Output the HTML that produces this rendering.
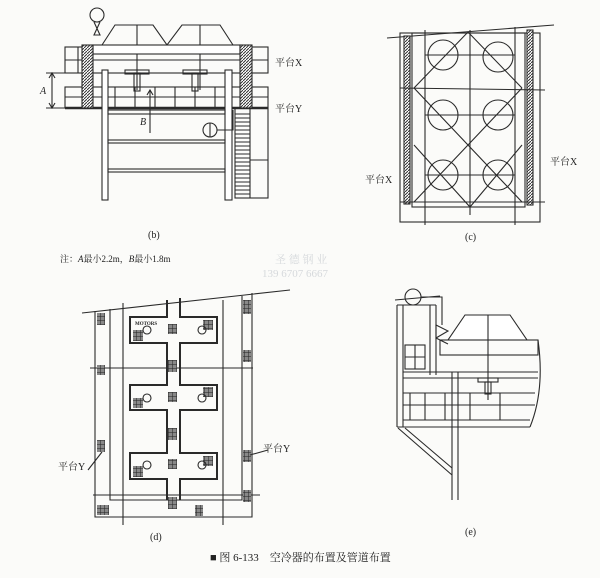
<!DOCTYPE html>
<html><head><meta charset="utf-8"><style>
html,body{margin:0;padding:0;background:#fbfbf9;}
svg{display:block}
text{font-family:"Liberation Serif","Noto Serif CJK SC",serif;fill:#222}
text.wm{fill:#d6d9dc}
</style></head><body>
<svg width="600" height="578" viewBox="0 0 600 578" xmlns="http://www.w3.org/2000/svg">
<defs>
<pattern id="h" width="3" height="3" patternUnits="userSpaceOnUse"><rect width="3" height="3" fill="#fff"/><path d="M0 3L3 0" stroke="#333" stroke-width="1"/></pattern>
<pattern id="g" width="4" height="4" patternUnits="userSpaceOnUse"><rect width="4" height="4" fill="#888"/><path d="M0 0H4M0 0V4" stroke="#222" stroke-width="1"/></pattern>
</defs>
<g stroke="#2a2a2a" fill="none" stroke-width="1.1">
<!-- (b) -->
<path d="M102 45 L115 25 L153 25 L167 45 L182 25 L220 25 L233 45" />
<line x1="137" y1="25" x2="137" y2="90"/><line x1="200" y1="25" x2="200" y2="90"/>
<rect x="65" y="47" width="203" height="26"/>
<line x1="65" y1="60" x2="268" y2="60"/><line x1="78" y1="47" x2="78" y2="73"/>
<rect x="93" y="45" width="147" height="9" fill="#fff"/>
<rect x="65" y="87" width="203" height="21"/>
<line x1="65" y1="97" x2="268" y2="97"/>
<path d="M85 87V108M115 87V108M135 87V108M155 87V108M175 87V108M195 87V108M215 87V108"/>
<line x1="65" y1="108" x2="268" y2="108" stroke-width="2.5"/>
<rect x="82" y="45" width="11" height="63" fill="url(#h)"/>
<rect x="240" y="45" width="12" height="63" fill="url(#h)"/>
<rect x="102" y="70" width="6" height="130" fill="#fff"/>
<rect x="225" y="70" width="7" height="130" fill="#fff"/>
<rect x="108" y="110" width="117" height="4"/>
<rect x="108" y="140" width="117" height="3"/>
<rect x="108" y="169" width="117" height="3"/>
<rect x="235" y="108" width="33" height="90"/>
<path d="M235 114h15M235 118h15M235 122h15M235 126h15M235 130h15M235 134h15M235 138h15M235 142h15M235 146h15M235 150h15M235 154h15M235 158h15M235 162h15M235 166h15M235 170h15M235 174h15M235 178h15M235 182h15M235 186h15M235 190h15M235 194h15M250 108V198M250 160H268"/>
<line x1="52" y1="73" x2="52" y2="108"/><line x1="46" y1="73" x2="65" y2="73"/><line x1="46" y1="108" x2="65" y2="108"/>
<path d="M49 78L52 73L55 78M49 103L52 108L55 103"/>
<line x1="150" y1="90" x2="150" y2="133"/><path d="M147 95L150 90L153 95"/>
<circle cx="210" cy="130" r="7"/><line x1="210" y1="123" x2="210" y2="137"/>
<path d="M217 130H233V110"/>
<circle cx="97" cy="15" r="7"/><path d="M94 22L100 35L94 35L100 22"/>
<rect x="134" y="73" width="6" height="18"/><rect x="192" y="73" width="6" height="18"/>
<rect x="125" y="70" width="24" height="4"/><rect x="183" y="70" width="24" height="4"/>
<!-- (c) -->
<line x1="387" y1="38" x2="554" y2="25"/>
<rect x="400" y="33" width="140" height="189"/>
<rect x="412" y="33" width="113" height="174"/>
<rect x="404" y="36" width="6" height="168" fill="url(#h)"/><rect x="527" y="30" width="6" height="175" fill="url(#h)"/>
<line x1="425" y1="30" x2="425" y2="225"/><line x1="515" y1="27" x2="515" y2="225"/>
<line x1="400" y1="88" x2="545" y2="90"/><line x1="400" y1="202" x2="545" y2="202"/>
<circle cx="443" cy="55" r="15"/><circle cx="498" cy="57" r="15"/>
<circle cx="443" cy="115" r="15"/><circle cx="498" cy="115" r="15"/>
<circle cx="443" cy="175" r="15"/><circle cx="498" cy="175" r="15"/>
<path d="M425 55H515M425 115H515M425 175H515"/>
<line x1="470" y1="30" x2="470" y2="215"/>
<path d="M414 88L468 32L522 88M414 88L522 202M522 88L414 202M414 145L470 207L522 145"/>
<!-- (d) -->
<path d="M82 313 L290 290"/>
<path d="M95 311 V517 H252 V293"/>
<path d="M110 309 V500 H242 V296"/>
<line x1="123" y1="303" x2="123" y2="525"/><line x1="223" y1="300" x2="223" y2="525"/>
<line x1="90" y1="368" x2="253" y2="368"/><line x1="93" y1="495" x2="260" y2="495"/>
<path d="M167 300 V317 H130 V343 H167 V385 H130 V410 H167 V453 H130 V479 H167 V500" stroke-width="2"/>
<path d="M180 298 V317 H217 V343 H180 V385 H217 V410 H180 V453 H217 V479 H180 V500" stroke-width="2"/>
<g fill="url(#g)" stroke="none">
<rect x="97" y="313" width="8" height="12"/><rect x="97" y="365" width="8" height="10"/><rect x="97" y="440" width="8" height="12"/><rect x="97" y="505" width="12" height="10"/>
<rect x="243" y="300" width="8" height="14"/><rect x="243" y="350" width="8" height="12"/><rect x="243" y="450" width="8" height="12"/><rect x="243" y="490" width="8" height="12"/>
<rect x="133" y="330" width="10" height="11"/><rect x="168" y="324" width="9" height="10"/><rect x="203" y="320" width="10" height="10"/>
<rect x="133" y="398" width="10" height="10"/><rect x="168" y="392" width="9" height="10"/><rect x="203" y="387" width="10" height="10"/>
<rect x="133" y="466" width="10" height="11"/><rect x="168" y="459" width="9" height="10"/><rect x="203" y="456" width="10" height="10"/>
<rect x="168" y="360" width="9" height="12"/><rect x="168" y="428" width="9" height="12"/><rect x="168" y="497" width="9" height="12"/><rect x="195" y="505" width="8" height="11"/>
</g>
<circle cx="147" cy="330" r="4"/><circle cx="202" cy="330" r="4"/><circle cx="147" cy="398" r="4"/><circle cx="202" cy="398" r="4"/><circle cx="147" cy="465" r="4"/><circle cx="202" cy="465" r="4"/>
<path d="M88 470 L102 452 M268 450 L250 455"/>
<!-- (e) -->
<line x1="395" y1="300" x2="440" y2="296"/>
<circle cx="413" cy="297" r="8"/><path d="M421 297H442V325"/>
<path d="M436 325L448 331L436 338Z M436 338L448 344"/>
<path d="M397 305V427M403 305V427M430 305V375M436 305V375M397 305H436"/>
<rect x="405" y="345" width="20" height="24"/><line x1="405" y1="357" x2="425" y2="357"/><line x1="415" y1="345" x2="415" y2="369"/>
<path d="M465 315L510 315L527 340L448 340Z" fill="#fff"/>
<rect x="440" y="340" width="98" height="15"/>
<line x1="488" y1="315" x2="488" y2="400"/>
<path d="M403 372H538M403 378H538"/>
<path d="M403 393H535M403 405H535M403 420H530M397 427H530"/>
<path d="M410 393V420M425 393V420M445 393V420M470 393V420M500 393V420"/>
<path d="M452 372V500M458 372V500"/>
<path d="M398 428L452 475M405 428L452 468"/>
<path d="M538 340 Q545 390 530 427"/>
<rect x="485" y="382" width="6" height="12"/><rect x="478" y="378" width="20" height="4"/>
</g>
<g font-size="10">
<text x="275" y="66">平台X</text><text x="275" y="112">平台Y</text>
<text x="40" y="94" font-style="italic">A</text><text x="140" y="125" font-style="italic">B</text>
<text x="148" y="238">(b)</text>
<text x="365" y="183">平台X</text><text x="550" y="165">平台X</text>
<text x="465" y="240">(c)</text>
<text x="60" y="262" font-size="9">注：<tspan font-style="italic">A</tspan>最小2.2m，<tspan font-style="italic">B</tspan>最小1.8m</text>
<text x="135" y="325" font-size="5" font-weight="bold">MOTORS</text>
<text x="58" y="470">平台Y</text><text x="263" y="452">平台Y</text>
<text x="150" y="540">(d)</text><text x="465" y="535">(e)</text>
<text x="210" y="561" font-size="11">■ 图 6-133　空冷器的布置及管道布置</text>
<text class="wm" x="275" y="263" font-size="11">圣 德 钢 业</text><text class="wm" x="262" y="277" font-size="11">139 6707 6667</text>
</g>
</svg>
</body></html>
